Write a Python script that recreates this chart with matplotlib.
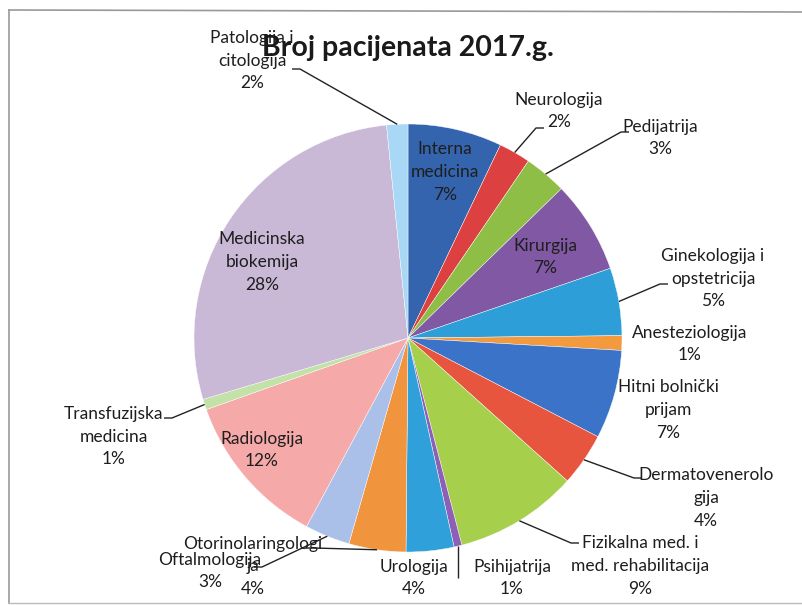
import matplotlib
matplotlib.use("Agg")
import matplotlib.pyplot as plt
import numpy as np

W, H = 803, 605

categories = ["Interna\nmedicina", "Neurologija", "Pedijatrija", "Kirurgija",
              "Ginekologija i\nopstetricija", "Anesteziologija", "Hitni bolnički\nprijam",
              "Dermatovenerolo\ngija", "Fizikalna med. i\nmed. rehabilitacija", "Psihijatrija",
              "Urologija", "Otorinolaringologi\nja", "Oftalmologija", "Radiologija",
              "Transfuzijska\nmedicina", "Medicinska\nbiokemija", "Patologija i\ncitologija"]
values = [7.1, 2.4, 3.2, 7.0, 5.1, 1.1, 6.7, 4.0, 9.3, 0.6, 3.6, 4.3, 3.4, 11.7, 0.8, 28.0, 1.6]
colors = ["#3564AE", "#DC4040", "#8EBE45", "#8058A3", "#2E9ED9", "#F29A3D", "#3B73C8",
          "#E8553F", "#A6CF4C", "#8D60B5", "#2FA0DA", "#F0953E", "#ABC0E8", "#F5A9A9",
          "#C3E2A8", "#C9B8D6", "#A9D7F6"]
title = "Broj pacijenata 2017.g."

plt.rcParams['font.family'] = ['Lato', 'DejaVu Sans']

fig = plt.figure(figsize=(W / 100, H / 100), dpi=100)
ax = fig.add_axes([0, 0, 1, 1])

cx, cy, R = 408, H - 338, 214
wedges, _ = ax.pie(values, colors=colors, startangle=90, counterclock=False,
                   center=(cx, cy), radius=R, frame=True,
                   wedgeprops=dict(edgecolor="white", linewidth=0.3))
ax.set_xlim(0, W)
ax.set_ylim(0, H)
ax.set_aspect('auto')
ax.axis('off')

total = sum(values)
pcts = [f"{round(v / total * 100)}%" for v in values]

def P(x, y):
    return (x, H - y)

# label positions (pixel coords, top-left origin), leader end points (None = no leader)
layout = [
    ((445, 172), None),
    ((559, 111), (536, 128)),
    ((660, 138), (621, 132)),
    ((545, 257), None),
    ((713, 279), (660, 284)),
    ((690, 344), None),
    ((668, 410), None),
    ((706, 498), (634, 478)),
    ((640, 566), (571, 543)),
    ((512, 578), (462, 578)),
    ((414, 578), None),
    ((253, 566), (314, 548)),
    ((210, 571), (262, 567)),
    ((262, 450), None),
    ((114, 437), (172, 418)),
    ((262, 262), None),
    ((252, 61), (300, 69)),
]

fs = 12.5
for w, cat, pct, (lp, lend) in zip(wedges, categories, pcts, layout):
    txt = f"{cat}\n{pct}"
    ax.text(*P(*lp), txt, ha="center", va="center", fontsize=fs,
            color="#1e1e1e", linespacing=1.5)
    if lend is not None:
        ang = np.deg2rad((w.theta1 + w.theta2) / 2)
        sx, sy = cx + R * np.cos(ang), cy + R * np.sin(ang)
        ex, ey = P(*lend)
        if cat.startswith("Psihijatrija"):
            xs, ys = [sx, sx], [sy, ey]
        else:
            xs = [sx, ex, ex + (8 if ex > sx else -8)]
            ys = [sy, ey, ey]
        ax.plot(xs, ys, color="#222222", lw=1.0, solid_capstyle="butt")

ax.text(*P(408, 48), title, ha="center", va="center", fontsize=20.5,
        fontweight="bold", color="#1a1a1a")

# chart area border
ax.plot([9, 9], [H - 10, H - 603], color="#999999", lw=1.2)
ax.plot([9, W], [H - 10, H - 12], color="#999999", lw=1.2)
ax.plot([9, W], [H - 603, H - 603], color="#bbbbbb", lw=1.0)

fig.savefig("out.png", dpi=100)
